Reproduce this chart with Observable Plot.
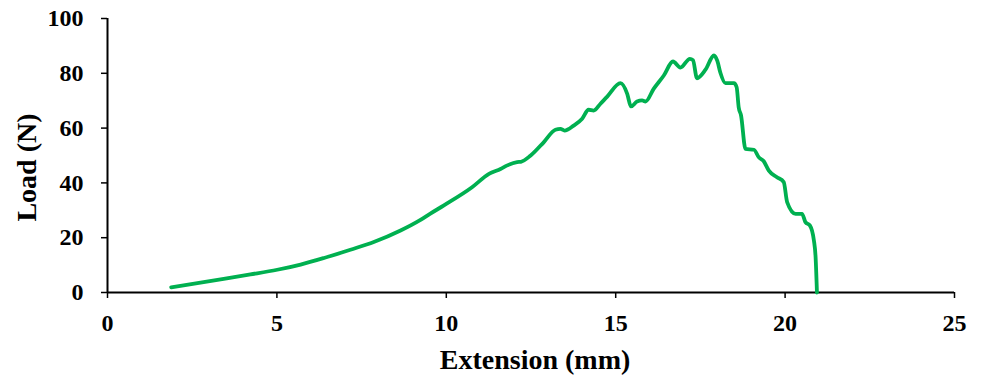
<!DOCTYPE html>
<html>
<head>
<meta charset="utf-8">
<script src="https://cdn.jsdelivr.net/npm/d3@7"></script>
<script src="https://cdn.jsdelivr.net/npm/@observablehq/plot@0.6"></script>
<style>
  html, body { margin: 0; padding: 0; background: #fff; }
</style>
</head>
<body>
<div id="chart"></div>
<script>
const extension = [1.88, 3.43, 4.22, 5.01, 5.7, 6.39, 7.17, 7.86, 8.65, 9.2, 9.53, 9.93, 10.76, 11.26, 11.6, 11.8, 12.09, 12.2, 12.49, 12.88, 13.22, 13.37, 13.49, 13.76, 14.01, 14.2, 14.35, 14.55, 14.75, 15.14, 15.34, 15.45, 15.63, 15.78, 15.88, 16.12, 16.42, 16.69, 16.91, 17.19, 17.28, 17.4, 17.65, 17.9, 18.0, 18.09, 18.24, 18.49, 18.57, 18.63, 18.7, 18.83, 19.08, 19.22, 19.37, 19.52, 19.76, 19.96, 20.06, 20.31, 20.5, 20.6, 20.73, 20.85, 20.9, 20.94];
const load = [1.9, 5.0, 6.6, 8.3, 10.2, 12.6, 15.6, 18.4, 22.6, 26.2, 28.8, 31.8, 38.4, 43.3, 45.1, 46.4, 47.6, 47.7, 50, 54.9, 59.4, 59.7, 59.1, 60.9, 63.4, 66.7, 66.4, 68.9, 71.5, 76.4, 72.5, 67.9, 69.7, 70.1, 69.7, 74.3, 79.2, 84.3, 82.1, 85.3, 84.8, 78.2, 81.3, 86.5, 84.5, 80.2, 76.4, 76.4, 74.9, 67.6, 64.6, 52.4, 52.1, 49.4, 47.9, 44.5, 42.1, 40.3, 33, 28.7, 28.7, 25.7, 24.5, 19, 12.9, 0];
const xTicks = [0, 5, 10, 15, 20, 25];
const yTicks = [0, 20, 40, 60, 80, 100];
const xTitle = "Extension (mm)";
const yTitle = "Load (N)";

const data = extension.map((x, i) => ({x, y: load[i]}));

const chart = Plot.plot({
  width: 981,
  height: 381,
  marginLeft: 107,
  marginRight: 27,
  marginTop: 18,
  marginBottom: 89,
  style: {fontFamily: "'Liberation Serif', 'Times New Roman', serif", fontWeight: "bold", fontSize: "24px", color: "#000", background: "#fff"},
  x: {domain: [0, 25]},
  y: {domain: [0, 100]},
  marks: [
    Plot.axisX({ticks: xTicks, tickSize: 6, tickPadding: 15, strokeWidth: 1.5, label: null, fontSize: 24, tickFormat: d => String(d)}),
    Plot.axisY({ticks: yTicks, tickSize: 6, tickPadding: 18, strokeWidth: 1.5, label: null, fontSize: 24, tickFormat: d => String(d)}),
    Plot.ruleY([0], {stroke: "#000", strokeWidth: 2}),
    Plot.ruleX([0], {stroke: "#000", strokeWidth: 2}),
    Plot.line(data, {x: "x", y: "y", stroke: "#00B050", strokeWidth: 3.8, curve: "monotone-x"}),
    Plot.text([xTitle], {frameAnchor: "bottom", textAnchor: "middle", lineAnchor: "middle", dx: 4, dy: 68, fontSize: 28, fontWeight: "bold", fill: "#000"}),
    Plot.text([yTitle], {frameAnchor: "left", textAnchor: "middle", lineAnchor: "middle", dx: -80, dy: 12, rotate: -90, fontSize: 28, fontWeight: "bold", fill: "#000"})
  ]
});
document.getElementById("chart").appendChild(chart);
</script>
</body>
</html>
